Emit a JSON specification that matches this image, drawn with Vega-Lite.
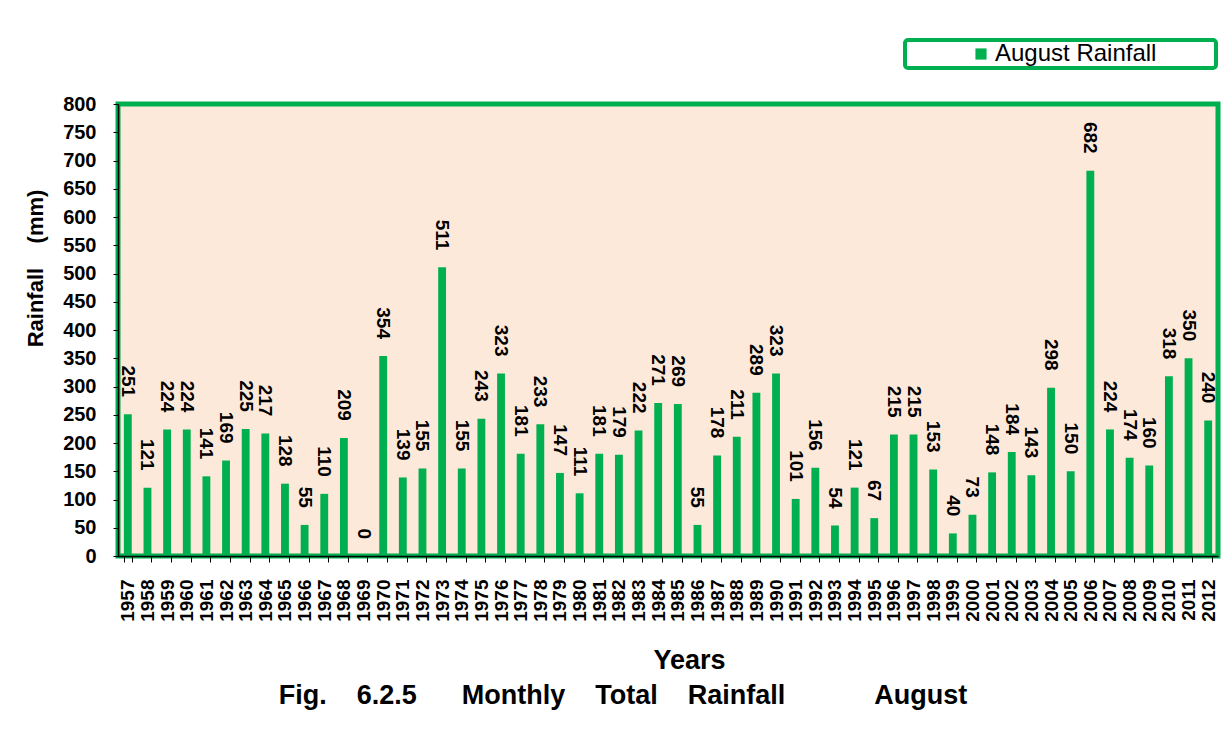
{
  "$schema": "https://vega.github.io/schema/vega-lite/v6.json",
  "width": 1100,
  "height": 452,
  "autosize": {"type": "none"},
  "padding": {"left": 118, "top": 104, "right": 13, "bottom": 174},
  "background": "white",
  "config": {
    "font": "Liberation Sans",
    "view": {"fill": "#FDE9D9", "stroke": "#00B050", "strokeWidth": 5}
  },
  "title": {
    "text": "Fig.\u00a0\u00a0\u00a0 6.2.5\u00a0\u00a0\u00a0\u00a0\u00a0 Monthly\u00a0\u00a0\u00a0 Total\u00a0\u00a0\u00a0 Rainfall\u00a0\u00a0\u00a0\u00a0\u00a0\u00a0\u00a0\u00a0\u00a0\u00a0\u00a0 August",
    "orient": "bottom",
    "anchor": "middle",
    "dx": -45,
    "offset": 10,
    "font": "Liberation Sans",
    "fontSize": 27,
    "fontWeight": "bold",
    "color": "black"
  },
  "data": {
    "values": [
      {"Year": "1957", "Rainfall": 251}, {"Year": "1958", "Rainfall": 121}, {"Year": "1959", "Rainfall": 224},
      {"Year": "1960", "Rainfall": 224}, {"Year": "1961", "Rainfall": 141}, {"Year": "1962", "Rainfall": 169},
      {"Year": "1963", "Rainfall": 225}, {"Year": "1964", "Rainfall": 217}, {"Year": "1965", "Rainfall": 128},
      {"Year": "1966", "Rainfall": 55}, {"Year": "1967", "Rainfall": 110}, {"Year": "1968", "Rainfall": 209},
      {"Year": "1969", "Rainfall": 0}, {"Year": "1970", "Rainfall": 354}, {"Year": "1971", "Rainfall": 139},
      {"Year": "1972", "Rainfall": 155}, {"Year": "1973", "Rainfall": 511}, {"Year": "1974", "Rainfall": 155},
      {"Year": "1975", "Rainfall": 243}, {"Year": "1976", "Rainfall": 323}, {"Year": "1977", "Rainfall": 181},
      {"Year": "1978", "Rainfall": 233}, {"Year": "1979", "Rainfall": 147}, {"Year": "1980", "Rainfall": 111},
      {"Year": "1981", "Rainfall": 181}, {"Year": "1982", "Rainfall": 179}, {"Year": "1983", "Rainfall": 222},
      {"Year": "1984", "Rainfall": 271}, {"Year": "1985", "Rainfall": 269}, {"Year": "1986", "Rainfall": 55},
      {"Year": "1987", "Rainfall": 178}, {"Year": "1988", "Rainfall": 211}, {"Year": "1989", "Rainfall": 289},
      {"Year": "1990", "Rainfall": 323}, {"Year": "1991", "Rainfall": 101}, {"Year": "1992", "Rainfall": 156},
      {"Year": "1993", "Rainfall": 54}, {"Year": "1994", "Rainfall": 121}, {"Year": "1995", "Rainfall": 67},
      {"Year": "1996", "Rainfall": 215}, {"Year": "1997", "Rainfall": 215}, {"Year": "1998", "Rainfall": 153},
      {"Year": "1999", "Rainfall": 40}, {"Year": "2000", "Rainfall": 73}, {"Year": "2001", "Rainfall": 148},
      {"Year": "2002", "Rainfall": 184}, {"Year": "2003", "Rainfall": 143}, {"Year": "2004", "Rainfall": 298},
      {"Year": "2005", "Rainfall": 150}, {"Year": "2006", "Rainfall": 682}, {"Year": "2007", "Rainfall": 224},
      {"Year": "2008", "Rainfall": 174}, {"Year": "2009", "Rainfall": 160}, {"Year": "2010", "Rainfall": 318},
      {"Year": "2011", "Rainfall": 350}, {"Year": "2012", "Rainfall": 240}
    ]
  },
  "encoding": {
    "x": {
      "field": "Year",
      "type": "nominal",
      "sort": null,
      "scale": {"paddingInner": 0.6, "paddingOuter": 0.3},
      "axis": {
        "title": "Years",
        "titleFont": "Liberation Sans",
        "titleFontSize": 27,
        "titleFontWeight": "bold",
        "titleColor": "black",
        "titleX": 571,
        "titleY": 104,
        "titleAlign": "center",
        "titleBaseline": "middle",
        "labelAngle": 270,
        "labelAlign": "right",
        "labelBaseline": "middle",
        "labelFontSize": 19,
        "labelFontWeight": "bold",
        "labelColor": "black",
        "labelPadding": 17,
        "tickBand": "extent",
        "tickSize": 6,
        "tickColor": "black",
        "domainColor": "black",
        "domainWidth": 1.5,
        "grid": false,
        "zindex": 1
      }
    },
    "y": {
      "field": "Rainfall",
      "type": "quantitative",
      "scale": {"domain": [0, 800], "nice": false},
      "axis": {
        "title": "Rainfall\u00a0\u00a0\u00a0 (mm)",
        "titleFont": "Liberation Sans",
        "titleFontSize": 22,
        "titleFontWeight": "bold",
        "titleColor": "black",
        "titleX": -83,
        "titleY": 164,
        "titleAngle": 270,
        "titleAlign": "center",
        "titleBaseline": "middle",
        "values": [0, 50, 100, 150, 200, 250, 300, 350, 400, 450, 500, 550, 600, 650, 700, 750, 800],
        "labelFontSize": 20,
        "labelFontWeight": "bold",
        "labelColor": "black",
        "labelPadding": 17,
        "tickSize": 5,
        "tickColor": "black",
        "domainColor": "black",
        "domainWidth": 1.5,
        "grid": false,
        "zindex": 1
      }
    }
  },
  "layer": [
    {
      "mark": {"type": "bar", "color": "#00B050"},
      "encoding": {
        "color": {
          "datum": "August Rainfall",
          "type": "nominal",
          "scale": {"range": ["#00B050"]},
          "legend": {
            "title": "\u00a0",
            "titleOrient": "right",
            "titlePadding": 58,
            "titleFontSize": 24,
            "orient": "none",
            "legendX": 787,
            "legendY": -64,
            "symbolType": "square",
            "symbolSize": 125,
            "symbolStrokeWidth": 0,
            "symbolOffset": 62,
            "labelOffset": 2,
            "labelFont": "Liberation Sans",
            "labelFontSize": 24,
            "labelColor": "black",
            "labelLimit": 400,
            "padding": 2,
            "strokeColor": "#00B050",
            "fillColor": "white",
            "cornerRadius": 3,
            "encode": {"legend": {"update": {"strokeWidth": {"value": 4}}}}
          }
        }
      }
    },
    {
      "mark": {
        "type": "text",
        "angle": 90,
        "align": "right",
        "baseline": "middle",
        "dx": -17,
        "font": "Liberation Sans",
        "fontSize": 19,
        "fontWeight": "bold",
        "color": "black"
      },
      "encoding": {
        "text": {"field": "Rainfall", "type": "quantitative"}
      }
    }
  ]
}
